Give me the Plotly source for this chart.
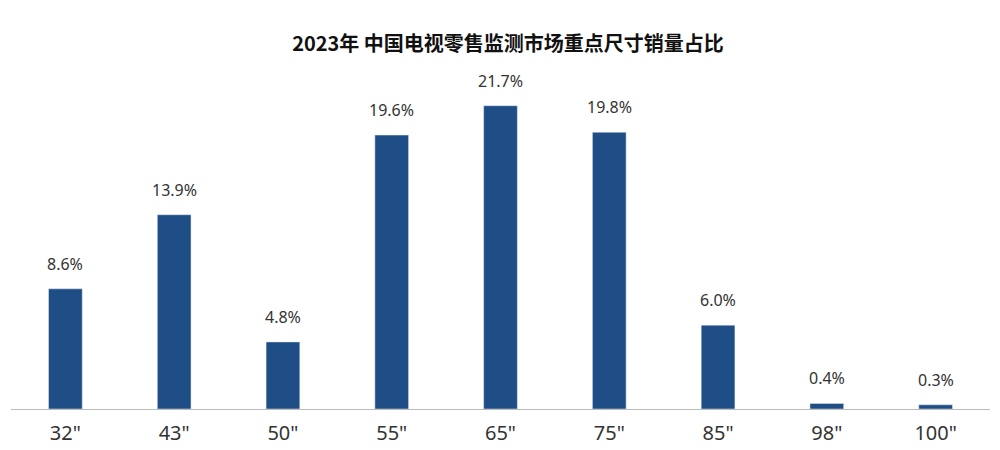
import plotly.graph_objects as go

sizes = ['32"', '43"', '50"', '55"', '65"', '75"', '85"', '98"', '100"']
shares = [8.6, 13.9, 4.8, 19.6, 21.7, 19.8, 6.0, 0.4, 0.3]
labels = [f"{v:.1f}%" for v in shares]

fig = go.Figure(go.Bar(
    x=sizes, y=shares, marker=dict(color="#1f4e86"), cliponaxis=False,
))
for s, v, t in zip(sizes, shares, labels):
    fig.add_annotation(x=s, y=v, text=t, showarrow=False, yanchor="bottom", yshift=12,
                       font=dict(size=16, color="#333333", family="Noto Sans"))
fig.update_layout(
    width=1000, height=450,
    margin=dict(l=3, r=18, t=53, b=49),
    paper_bgcolor="white", plot_bgcolor="white",
    bargap=0.69,
    title=dict(text="<b>2023年 中国电视零售监测市场重点尺寸销量占比</b>", x=0.5, y=0.935, xanchor="center",
               font=dict(size=20, color="#111111", family="Noto Sans CJK SC")),
    showlegend=False,
)
fig.update_xaxes(showline=True, linecolor="#bbbbbb", linewidth=1, ticks="", ticklabelstandoff=6,
                 tickfont=dict(size=20, color="#333333", family="Noto Sans"))
fig.update_yaxes(range=[0, 24.9], visible=False)
fig.write_html("out.html")
